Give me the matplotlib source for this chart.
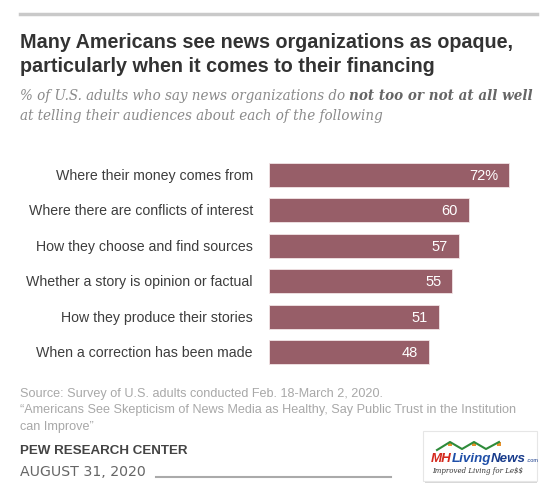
import matplotlib
matplotlib.use("Agg")
import matplotlib.pyplot as plt
from matplotlib.patches import Rectangle

categories = [
    "Where their money comes from",
    "Where there are conflicts of interest",
    "How they choose and find sources",
    "Whether a story is opinion or factual",
    "How they produce their stories",
    "When a correction has been made",
]
values = [72, 60, 57, 55, 51, 48]
value_labels = ["72%", "60", "57", "55", "51", "48"]

title_lines = ["Many Americans see news organizations as opaque,",
               "particularly when it comes to their financing"]
sub1_a = "% of U.S. adults who say news organizations do "
sub1_b = "not too or not at all well"
sub2 = "at telling their audiences about each of the following"
source_lines = ["Source: Survey of U.S. adults conducted Feb. 18-March 2, 2020.",
                "\u201cAmericans See Skepticism of News Media as Healthy, Say Public Trust in the Institution",
                "can Improve\u201d"]
org = "PEW RESEARCH CENTER"
date = "AUGUST 31, 2020"

W, H = 556, 485
fig = plt.figure(figsize=(W / 100, H / 100), dpi=100)
fig.patch.set_facecolor("white")
renderer = fig.canvas.get_renderer()

def px(x, y):
    return x / W, 1 - y / H

def fit(t, target):
    bb = t.get_window_extent(renderer)
    t.set_fontsize(t.get_fontsize() * target / bb.width)
    return t

SANS = "Liberation Sans"
SERIF = "DejaVu Serif"

# top rule
fig.add_artist(plt.Line2D([20 / W, 537 / W], [1 - 15 / H] * 2, color="#c9c9c9", lw=2.5))

# title
t1 = fig.text(*px(20, 48), title_lines[0], fontsize=15, fontweight="bold",
              family=SANS, color="#333333", va="baseline")
fit(t1, 493)
fig.text(*px(20, 72), title_lines[1], fontsize=t1.get_fontsize(), fontweight="bold",
         family=SANS, color="#333333", va="baseline")

# subtitle
s1 = fig.text(*px(20, 100), sub1_a, fontsize=10, style="italic", family=SERIF,
              color="#8a8a8a", va="baseline")
bb = s1.get_window_extent(renderer)
s1b = fig.text(bb.x1 / W, 1 - 100 / H, sub1_b, fontsize=10, style="italic",
               fontweight="bold", family=SERIF, color="#666666", va="baseline")
tot = s1b.get_window_extent(renderer).x1 - bb.x0
scale = 513 / tot
s1.set_fontsize(10 * scale)
bb = s1.get_window_extent(renderer)
s1b.set_fontsize(10 * scale)
s1b.set_x(bb.x1 / W)
fig.text(*px(20, 120), sub2, fontsize=10 * scale, style="italic", family=SERIF,
         color="#8a8a8a", va="baseline")

# bars
x0, x72 = 269, 509
ppu = (x72 - x0) / 72
xmax = 80
top, pitch = 176 - 35.4 / 2, 35.4
bottom = top + pitch * len(categories)
ax = fig.add_axes([x0 / W, 1 - bottom / H, xmax * ppu / W, (bottom - top) / H])
ypos = list(range(len(categories)))
ax.barh(ypos, values, height=0.68, color="#975e68", edgecolor="#f2e4e6", linewidth=0.6)
ax.set_xlim(0, xmax)
ax.set_ylim(len(categories) - 0.5, -0.5)
ax.axis("off")
for y, v, lab, cat in zip(ypos, values, value_labels, categories):
    ax.text(v - 3.3, y, lab, ha="right", va="center", color="white",
            fontsize=10.5, family=SANS)
    ax.text(-16 / ppu, y, cat, ha="right", va="center", color="#3d3d3d",
            fontsize=10.2, family=SANS)

# source
for i, s in enumerate(source_lines):
    fig.text(*px(20, 397 + i * 16.5), s, fontsize=9.1, family=SANS,
             color="#a8a8a8", va="baseline")
fig.text(*px(20, 454), org, fontsize=9.6, fontweight="bold", family=SANS,
         color="#444444", va="baseline")
fig.text(*px(20, 476), date, fontsize=10.2, family="DejaVu Sans",
         color="#666666", va="baseline")
fig.add_artist(plt.Line2D([156 / W, 391 / W], [1 - 478 / H] * 2, color="#aaaaaa", lw=1.5))

# logo box
shadow = Rectangle(px(425, 484), 112 / W, 50 / H, transform=fig.transFigure,
                   facecolor="#d8d8d8", edgecolor="none")
fig.add_artist(shadow)
box = Rectangle(px(423, 482), 114 / W, 50 / H, transform=fig.transFigure,
                facecolor="white", edgecolor="#e6e6e6", lw=0.8)
fig.add_artist(box)
fs = 9.6
m = fig.text(*px(431, 462), "MH", fontsize=fs, fontweight="bold", style="italic",
             family=SANS, color="#d42a1e", va="baseline")
xb = m.get_window_extent(renderer).x1
l = fig.text(xb / W, 1 - 462 / H, "Living", fontsize=fs, fontweight="bold", style="italic",
             family=SANS, color="#1f4fa8", va="baseline")
xb = l.get_window_extent(renderer).x1
n = fig.text(xb / W, 1 - 462 / H, "News", fontsize=fs, fontweight="bold", style="italic",
             family=SANS, color="#1a3d8c", va="baseline")
xb = n.get_window_extent(renderer).x1
fig.text(xb / W, 1 - 462 / H, ".com", fontsize=4, family=SANS, color="#1a3d8c", va="baseline")
fig.text(*px(478, 473), r"Improved Living for Le\$\$", fontsize=5, style="italic",
         family="DejaVu Serif", color="#333333", ha="center", va="baseline")
# roof
fig.add_artist(plt.Line2D([437 / W, 450 / W, 462 / W, 474 / W, 486 / W, 499 / W],
                          [1 - 451 / H, 1 - 443 / H, 1 - 450 / H, 1 - 443 / H, 1 - 450 / H, 1 - 443 / H],
                          color="#2e8b3a", lw=1.5))
for rx in (448, 472, 497):
    fig.add_artist(Rectangle(px(rx, 447), 4 / W, 4 / H, transform=fig.transFigure,
                             facecolor="#e8902a", edgecolor="none"))

fig.savefig("out.png", dpi=100, facecolor="white")
